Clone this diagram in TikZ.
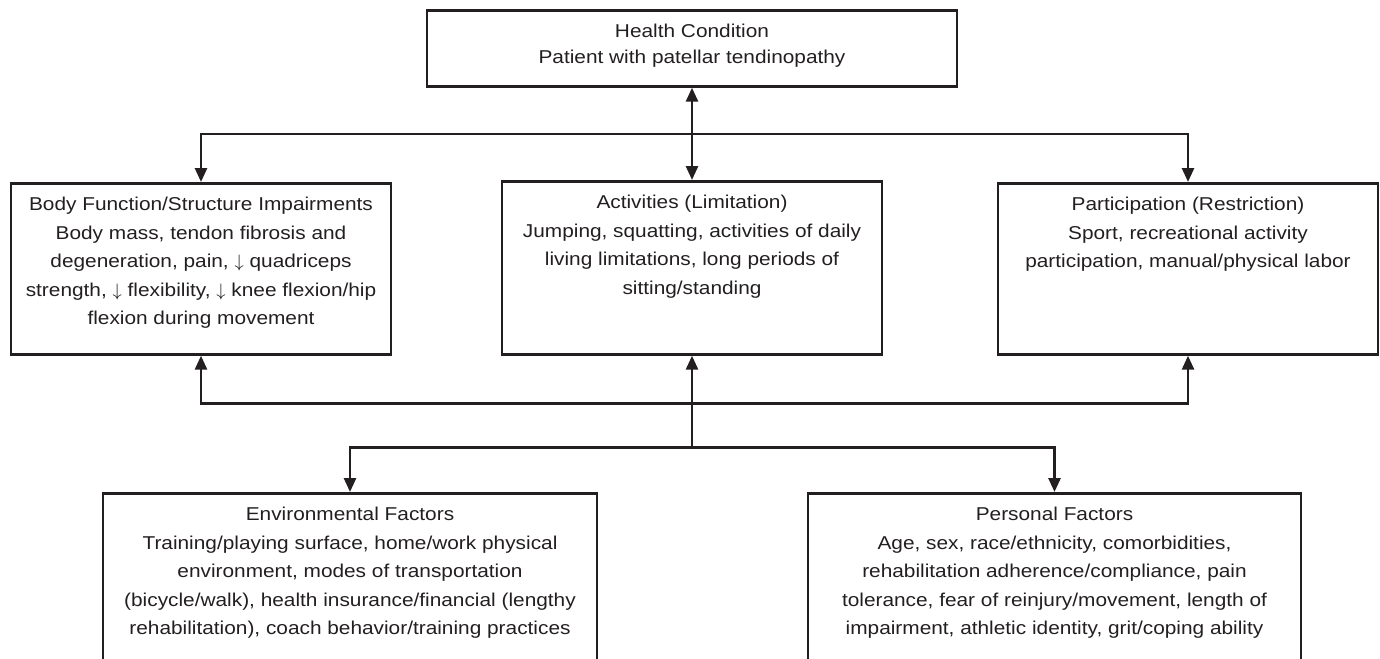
\documentclass[tikz,border=0pt]{standalone}
\usepackage{fontspec}
\setmainfont[FakeStretch=1.12]{Liberation Sans}
\usetikzlibrary{arrows.meta,positioning,calc}

\definecolor{ink}{RGB}{35,31,32}

\tikzset{
  box/.style={draw=ink, line width=1.35pt, anchor=north, inner sep=0pt},
  txt/.style={align=center, text=ink, inner xsep=0pt, inner ysep=7.5pt,
    font=\fontsize{9.3pt}{14.25pt}\selectfont},
  link/.style={draw=ink, line width=1.35pt, >={Triangle[length=7pt,width=6pt]}},
}

\begin{document}
\begin{tikzpicture}[x=0.5pt,y=-0.5pt]
\clip (0,0) rectangle (1380,658);

%boxes
\node[box, minimum width=265pt, minimum height=38pt] (health) at (692,9) {};
\node[box, minimum width=190pt, minimum height=85.5pt] (body) at (201,182) {};
\node[box, minimum width=190pt, minimum height=86.5pt] (act) at (692,180) {};
\node[box, minimum width=190pt, minimum height=85.5pt] (part) at (1188,182) {};
\node[box, minimum width=247pt, minimum height=120pt] (env) at (350,492) {};
\node[box, minimum width=246.5pt, minimum height=120pt] (pers) at (1054.5,492) {};

%texts
\node[txt, below=0pt of health.north, font=\fontsize{9.3pt}{12.75pt}\selectfont] (healthtxt)
  {Health Condition\\Patient with patellar tendinopathy};
\node[txt, below=0pt of body.north] (bodytxt)
  {Body Function/Structure Impairments\\Body mass, tendon fibrosis and\\degeneration, pain, $\downarrow$ quadriceps\\strength, $\downarrow$ flexibility, $\downarrow$ knee flexion/hip\\flexion during movement};
\node[txt, below=0pt of act.north] (acttxt)
  {Activities (Limitation)\\Jumping, squatting, activities of daily\\living limitations, long periods of\\sitting/standing};
\node[txt, below=0pt of part.north] (parttxt)
  {Participation (Restriction)\\Sport, recreational activity\\participation, manual/physical labor};
\node[txt, below=0pt of env.north] (envtxt)
  {Environmental Factors\\Training/playing surface, home/work physical\\environment, modes of transportation\\(bicycle/walk), health insurance/financial (lengthy\\rehabilitation), coach behavior/training practices};
\node[txt, below=0pt of pers.north] (perstxt)
  {Personal Factors\\Age, sex, race/ethnicity, comorbidities,\\rehabilitation adherence/compliance, pain\\tolerance, fear of reinjury/movement, length of\\impairment, athletic identity, grit/coping ability};

%junctions
\coordinate (hub) at ($(health.south)!.5!(act.north)$);
\coordinate (split) at ($(act.south)+(0,48)$);
\coordinate (fork) at ($(act.south)+(0,92)$);

%connectors
\draw[link,<->] (health.south) -- (act.north);
\draw[link,->] (hub) -| (body.north);
\draw[link,->] (hub) -| (part.north);

\draw[link,->] (fork) -- (act.south);
\draw[link,->] (split) -| (body.south);
\draw[link,->] (split) -| (part.south);
\draw[link,->] (fork) -| (env.north);
\draw[link,->] (fork) -| (pers.north);

\end{tikzpicture}
\end{document}
